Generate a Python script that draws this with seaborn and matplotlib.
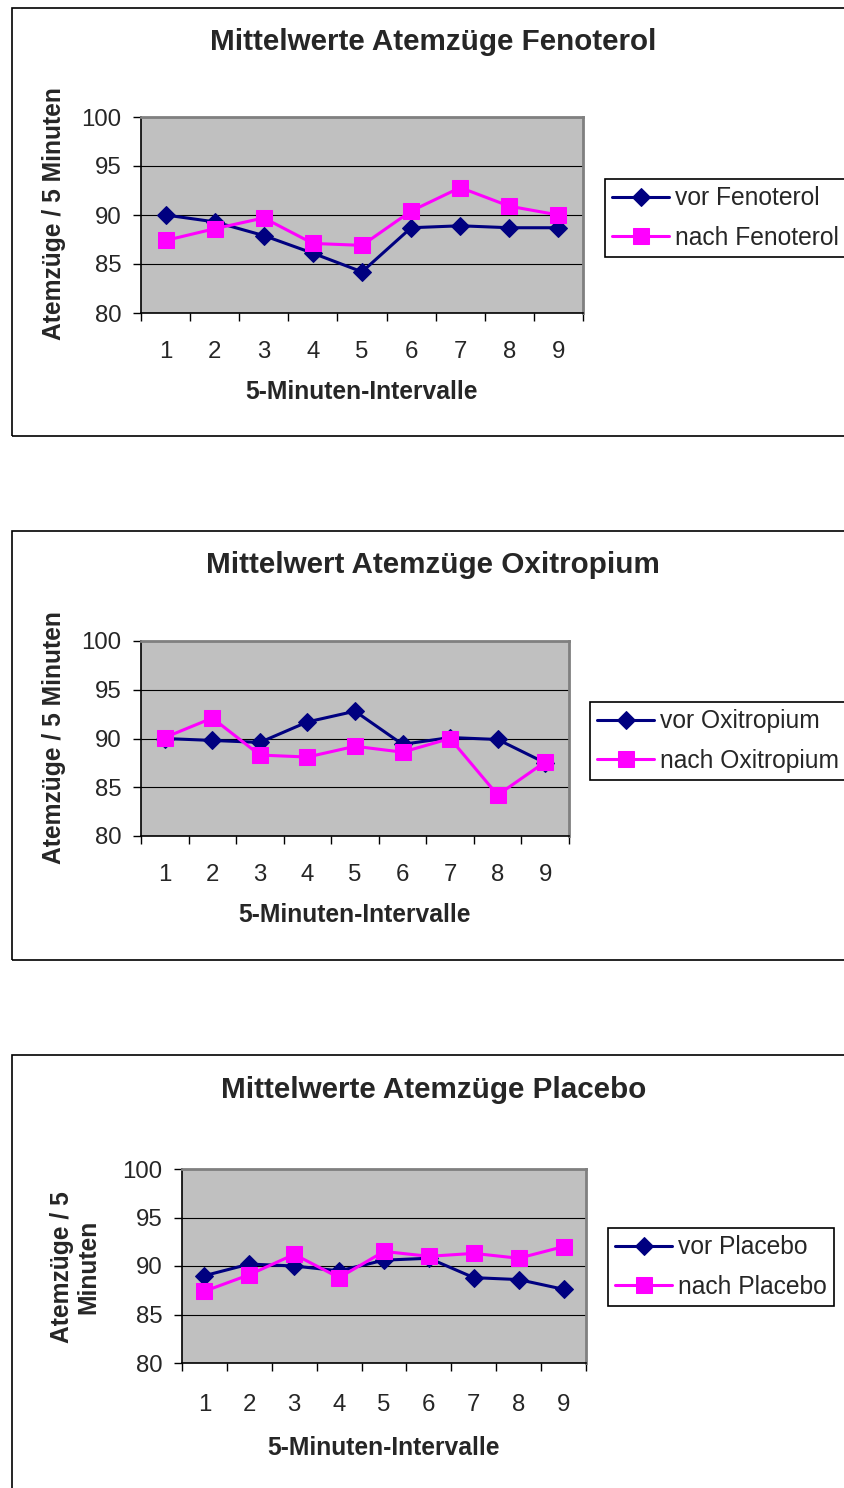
import matplotlib
matplotlib.use("Agg")
import matplotlib.pyplot as plt
import seaborn as sns
import numpy as np
from matplotlib.patches import Rectangle
from matplotlib.ticker import FixedLocator

# ---------------- data ----------------
intervals = [1, 2, 3, 4, 5, 6, 7, 8, 9]
y_ticks = [80, 85, 90, 95, 100]

fen_vor = [90.0, 89.3, 87.9, 86.1, 84.2, 88.7, 88.9, 88.7, 88.7]
fen_nach = [87.4, 88.6, 89.7, 87.1, 86.9, 90.4, 92.8, 90.9, 90.0]

oxi_vor = [90.0, 89.8, 89.6, 91.7, 92.8, 89.4, 90.1, 89.9, 87.5]
oxi_nach = [90.1, 92.1, 88.3, 88.1, 89.2, 88.6, 90.0, 84.2, 87.6]

pla_vor = [89.0, 90.2, 90.0, 89.5, 90.6, 90.8, 88.8, 88.6, 87.6]
pla_nach = [87.4, 89.1, 91.2, 88.8, 91.5, 91.0, 91.3, 90.8, 92.0]

titles = ["Mittelwerte Atemzüge Fenoterol",
          "Mittelwert Atemzüge Oxitropium",
          "Mittelwerte Atemzüge Placebo"]
labels_vor = ["vor Fenoterol", "vor Oxitropium", "vor Placebo"]
labels_nach = ["nach Fenoterol", "nach Oxitropium", "nach Placebo"]
x_label = "5-Minuten-Intervalle"
y_labels = ["Atemzüge / 5 Minuten", "Atemzüge / 5 Minuten", "Atemzüge / 5\nMinuten"]

# ---------------- style ----------------
sns.set_style("white")
plt.rcParams["font.family"] = ["Liberation Sans", "DejaVu Sans"]

W, H = 845, 1488
fig = plt.figure(figsize=(W / 100, H / 100), dpi=100)


def fx(px):
    return px / W


def fy(py):
    return 1 - py / H


NAVY = "#000080"
MAGENTA = "#FF00FF"

layout = [
    dict(plot=(141, 117, 583, 313), frame=(12, 8, 900, 436), title=(433, 42),
         xlab=(362, 392), ylab=(54, 214), leg=(605, 179), xpad=20.5),
    dict(plot=(141, 641, 569, 836), frame=(12, 531, 900, 960), title=(433, 565),
         xlab=(355, 915), ylab=(54, 738), leg=(590, 702), xpad=20.5),
    dict(plot=(182, 1169, 586, 1363), frame=(12, 1055, 900, 1560), title=(434, 1090),
         xlab=(384, 1448), ylab=(75, 1267), leg=(608, 1228), xpad=22.5),
]
series = [(fen_vor, fen_nach), (oxi_vor, oxi_nach), (pla_vor, pla_nach)]

for i, lay in enumerate(layout):
    fl, ft, fr, fb = lay["frame"]
    fig.add_artist(Rectangle((fx(fl), fy(fb)), fx(fr) - fx(fl), (fb - ft) / H,
                             transform=fig.transFigure, fill=False,
                             edgecolor="black", linewidth=1.2))

    l, t, r, b = lay["plot"]
    ax = fig.add_axes([fx(l), fy(b), fx(r) - fx(l), (b - t) / H])
    ax.set_facecolor("#C0C0C0")

    vor, nach = series[i]
    sns.lineplot(x=intervals, y=vor, ax=ax, color=NAVY, marker="D", markersize=9,
                 markeredgecolor=NAVY, linewidth=2.2, label=labels_vor[i], zorder=3)
    sns.lineplot(x=intervals, y=nach, ax=ax, color=MAGENTA, marker="s", markersize=11,
                 markeredgecolor=MAGENTA, linewidth=2.2, label=labels_nach[i], zorder=4)
    handles, labs = ax.get_legend_handles_labels()
    ax.get_legend().remove()

    ax.set_xlim(0.5, 9.5)
    ax.set_ylim(80, 100)
    ax.set_yticks(y_ticks)
    ax.set_xticks(intervals)
    ax.xaxis.set_minor_locator(FixedLocator(np.arange(0.5, 10, 1)))
    ax.set_xlabel("")
    ax.set_ylabel("")
    ax.tick_params(axis="x", which="major", length=0, pad=lay["xpad"], labelsize=17.3)
    ax.tick_params(axis="x", which="minor", length=6, width=1, direction="out",
                   color="black", bottom=True)
    ax.tick_params(axis="y", which="major", length=6, width=1, direction="out",
                   color="black", pad=8, labelsize=17.3, left=True)
    ax.grid(axis="y", color="black", linewidth=0.8)
    ax.grid(axis="x", visible=False)
    for s in ["left", "bottom"]:
        ax.spines[s].set_color("black")
        ax.spines[s].set_linewidth(1.2)
    for s in ["top", "right"]:
        ax.spines[s].set_color("#808080")
        ax.spines[s].set_linewidth(2)

    fig.text(fx(lay["title"][0]), fy(lay["title"][1]), titles[i], ha="center",
             va="center", fontsize=21.3, fontweight="bold")
    fig.text(fx(lay["xlab"][0]), fy(lay["xlab"][1]), x_label, ha="center",
             va="center", fontsize=17.7, fontweight="bold")
    fig.text(fx(lay["ylab"][0]), fy(lay["ylab"][1]), y_labels[i], ha="center",
             va="center", rotation=90, fontsize=17.7, fontweight="bold",
             multialignment="center", linespacing=1.15)

    leg = fig.legend(handles, labs, loc="upper left",
                     bbox_to_anchor=(fx(lay["leg"][0]), fy(lay["leg"][1])),
                     bbox_transform=fig.transFigure, frameon=True, fancybox=False,
                     edgecolor="black", framealpha=1, fontsize=17.7, borderpad=0.3,
                     handlelength=2.3, handletextpad=0.25, labelspacing=0.62,
                     borderaxespad=0)
    leg.get_frame().set_linewidth(1.2)

fig.savefig("out.png", dpi=100)
